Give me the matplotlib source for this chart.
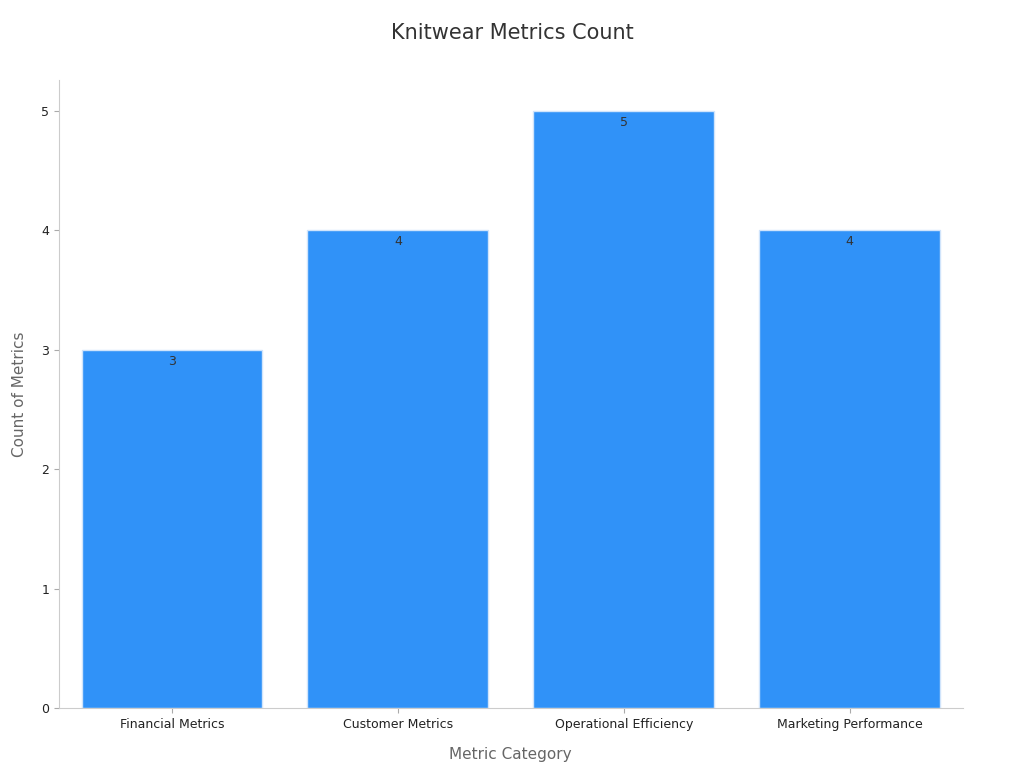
import matplotlib.pyplot as plt

categories = ["Financial Metrics", "Customer Metrics", "Operational Efficiency", "Marketing Performance"]
counts = [3, 4, 5, 4]

fig = plt.figure(figsize=(10.24, 7.68), dpi=100)
ax = fig.add_axes([0.0576, 0.078, 0.8824, 0.818])

bars = ax.bar(range(len(categories)), counts, width=0.8, color="#3092f8", edgecolor="#d0e4fb", linewidth=1)
for b, v in zip(bars, counts):
    ax.text(b.get_x() + b.get_width() / 2, v - 0.04, str(v), ha="center", va="top", fontsize=9, color="#333333")

ax.set_xticks(range(len(categories)))
ax.set_xticklabels(categories, fontsize=9, color="#222222")
ax.set_xlim(-0.5, 3.5)
ax.set_ylim(0, 5.26)
ax.set_yticks(range(6))
ax.tick_params(axis="y", labelsize=9, colors="#222222")
ax.tick_params(axis="both", color="#aaaaaa")
for s in ["top", "right"]:
    ax.spines[s].set_visible(False)
for s in ["left", "bottom"]:
    ax.spines[s].set_color("#cccccc")

ax.set_xlabel("Metric Category", fontsize=11, color="#666666", labelpad=12)
ax.set_ylabel("Count of Metrics", fontsize=11, color="#666666", labelpad=10)
fig.suptitle("Knitwear Metrics Count", fontsize=15, color="#333333", y=0.97)

fig.savefig("out.png", dpi=100)
